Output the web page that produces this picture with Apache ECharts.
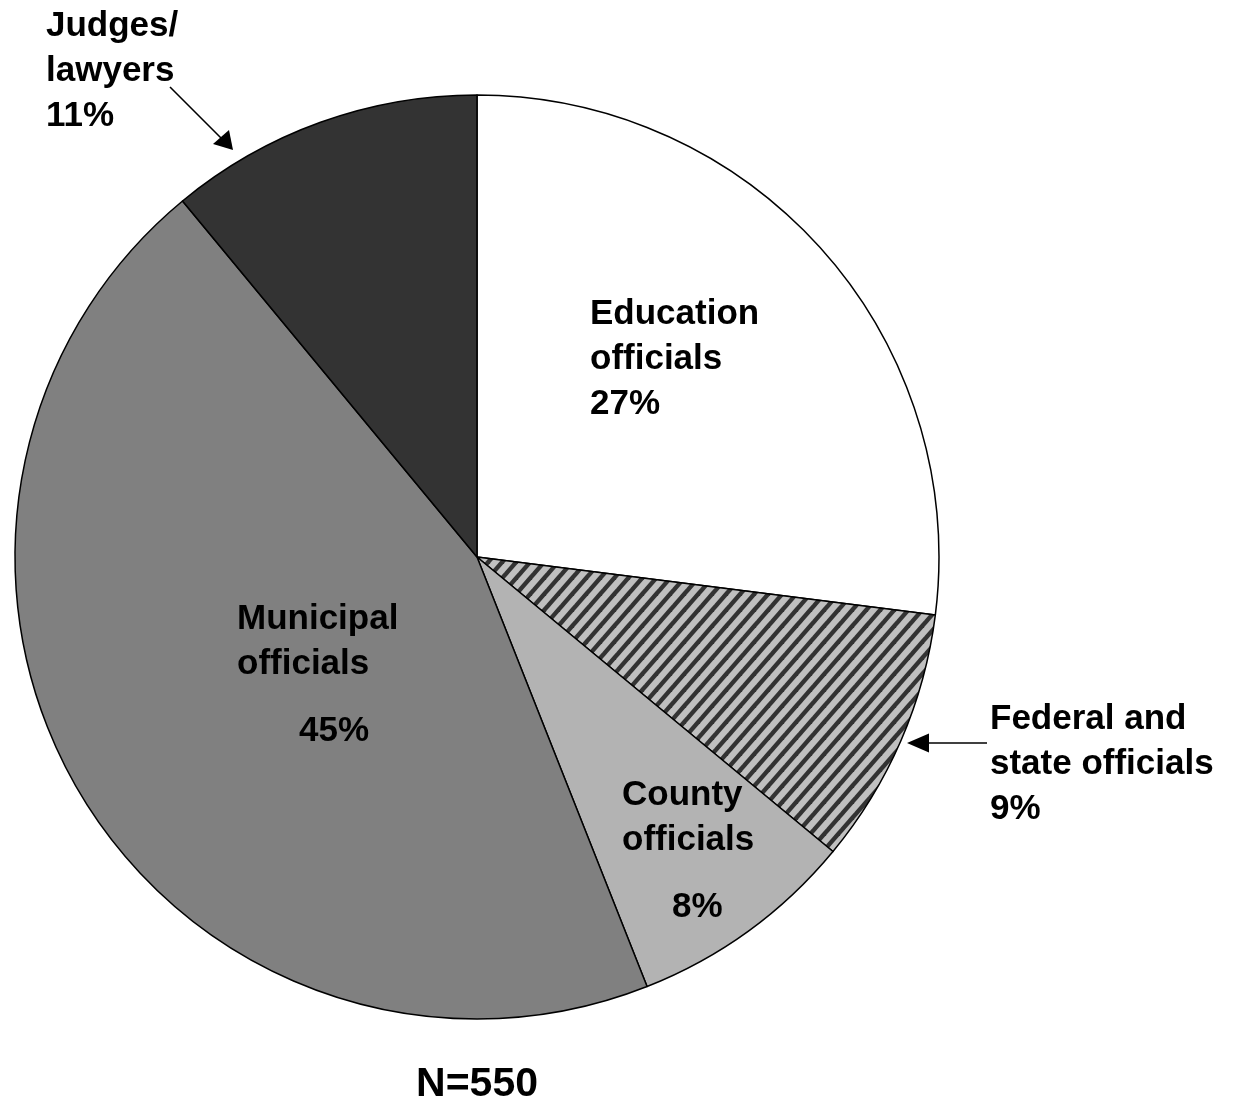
<!DOCTYPE html>
<html>
<head>
<meta charset="utf-8">
<script src="https://cdn.jsdelivr.net/npm/echarts@6/dist/echarts.min.js"></script>
<style>
html,body{margin:0;padding:0;background:#fff;}
#chart{width:1236px;height:1102px;}
</style>
</head>
<body>
<div id="chart"></div>
<script>
// ---- data ----
const categories = ['Education\nofficials', 'Federal and\nstate officials', 'County\nofficials', 'Municipal\nofficials', 'Judges/\nlawyers'];
const shares = [27, 9, 8, 45, 11];
const sampleSize = 550;

// ---- styles (kept out of the data) ----
const FONT = '"Liberation Sans", Arial, sans-serif';
function stripePattern() {
  const w = 14, h = 16;
  const c = document.createElement('canvas');
  c.width = w; c.height = h;
  const g = c.getContext('2d');
  g.fillStyle = '#c0c0c0';
  g.fillRect(0, 0, w, h);
  g.strokeStyle = '#333333';
  g.lineWidth = 4.4;
  [-w, 0, w].forEach(k => {
    g.beginPath();
    g.moveTo(k - w, 2 * h);
    g.lineTo(k + 2 * w, -h);
    g.stroke();
  });
  return c;
}
const sliceColors = ['#ffffff', { image: stripePattern(), repeat: 'repeat' }, '#b3b3b3', '#808080', '#333333'];
const labelPos = [[590, 292], [990, 697], [622, 773], [237, 597], [46, 4]];
const pctToken = ['p', 'p', 'pc', 'pm', 'p'];

const chart = echarts.init(document.getElementById('chart'), null, { renderer: 'canvas' });

const base = { fontFamily: FONT, fontWeight: 'bold', fontSize: 35, color: '#000' };
const option = {
  backgroundColor: '#ffffff',
  animation: false,
  series: [{
    type: 'pie',
    center: [477, 557],
    radius: 462,
    startAngle: 90,
    clockwise: true,
    avoidLabelOverlap: false,
    emphasis: { disabled: true },
    data: categories.map((name, i) => ({
      name: name,
      value: shares[i],
      itemStyle: { color: sliceColors[i] }
    })),
    itemStyle: { borderColor: '#000000', borderWidth: 1.5 },
    label: {
      show: true,
      position: 'inside',
      rotate: 0,
      color: '#000',
      align: 'left',
      formatter: function (p) {
        const lines = p.name.split('\n').map(t => '{n|' + t + '}');
        lines.push('{' + pctToken[p.dataIndex] + '|' + Math.round(p.percent) + '%}');
        return lines.join('\n');
      },
      rich: {
        n: Object.assign({ lineHeight: 45 }, base),
        p: Object.assign({ lineHeight: 45 }, base),
        pm: Object.assign({ lineHeight: 88, padding: [0, 0, 0, 62] }, base),
        pc: Object.assign({ lineHeight: 88, padding: [0, 0, 0, 50] }, base)
      }
    },
    labelLine: { show: false },
    labelLayout: function (params) {
      const pos = labelPos[params.dataIndex];
      return { x: pos[0], y: pos[1], align: 'left', verticalAlign: 'top', hideOverlap: false };
    }
  }],
  graphic: [
    // Judges/lawyers arrow
    { type: 'line', shape: { x1: 170, y1: 87, x2: 224, y2: 141 }, style: { stroke: '#000', lineWidth: 1.6 }, z: 10 },
    { type: 'polygon', shape: { points: [[233, 150], [213, 144], [229, 130]] }, style: { fill: '#000' }, z: 10 },
    // Federal and state arrow
    { type: 'line', shape: { x1: 987, y1: 743, x2: 920, y2: 743 }, style: { stroke: '#000', lineWidth: 1.6 }, z: 10 },
    { type: 'polygon', shape: { points: [[907, 743], [929, 733.5], [929, 752.5]] }, style: { fill: '#000' }, z: 10 },
    // sample size
    { type: 'text', x: 477, y: 1085, z: 10,
      style: { text: 'N=' + sampleSize, font: 'bold 41px ' + FONT, fill: '#000', textAlign: 'center', textVerticalAlign: 'middle' } }
  ]
};
chart.setOption(option);
</script>
</body>
</html>
